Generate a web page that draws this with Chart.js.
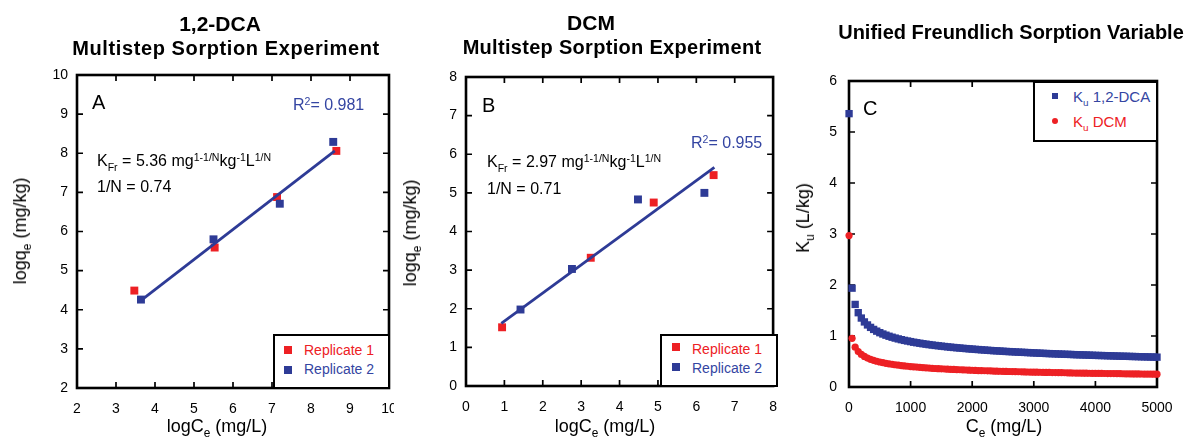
<!DOCTYPE html>
<html>
<head>
<meta charset="utf-8">
<title>Freundlich sorption</title>
<script src="https://cdn.jsdelivr.net/npm/chart.js@4.4.1/dist/chart.umd.min.js"></script>
<style>
  body { margin: 0; background: #fff; width: 1190px; height: 438px; position: relative; overflow: hidden;
         font-family: 'Liberation Sans', Arial, Helvetica, sans-serif; color: #000; }
  .panel { position: absolute; top: 0; height: 438px; overflow: hidden; }
  .t { position: absolute; white-space: nowrap; line-height: 1; }
  .b { font-weight: bold; }
  .cx { transform: translateX(-50%); }
  .rot { transform: translate(-50%, -50%) rotate(-90deg); }
  .sb { font-size: 0.66em; position: relative; top: 0.45em; }
  .sp { font-size: 0.66em; position: relative; top: -0.5em; }
  .blue { color: #3445a2; }
  .red { color: #ed2024; }
  .legend { position: absolute; box-sizing: border-box; border: 2px solid #000; background: #fff; }
  .mk { position: absolute; }
</style>
</head>
<body>

<div class="panel" style="left:0;width:394px"><canvas id="chartA" width="410" height="438"></canvas></div>
<div class="panel" style="left:395px;width:395px"><canvas id="chartB" width="395" height="438"></canvas></div>
<div class="panel" style="left:790px;width:400px"><canvas id="chartC" width="400" height="438"></canvas></div>

<!-- titles -->
<div class="t b cx" style="left:220px;top:13px;font-size:21px">1,2-DCA</div>
<div class="t b cx" style="left:226px;top:38px;font-size:20px;letter-spacing:0.6px">Multistep Sorption Experiment</div>
<div class="t b cx" style="left:591px;top:12px;font-size:21px">DCM</div>
<div class="t b cx" style="left:612px;top:37px;font-size:20px;letter-spacing:0.3px">Multistep Sorption Experiment</div>
<div class="t b cx" style="left:1011px;top:22px;font-size:20px">Unified Freundlich Sorption Variable</div>

<!-- axis titles -->
<div class="t rot" style="left:20px;top:231px;font-size:18px">logq<span class="sb">e</span> (mg/kg)</div>
<div class="t cx" style="left:217px;top:417px;font-size:18px">logC<span class="sb">e</span> (mg/L)</div>
<div class="t rot" style="left:410px;top:233px;font-size:18px">logq<span class="sb">e</span> (mg/kg)</div>
<div class="t cx" style="left:605px;top:417px;font-size:18px">logC<span class="sb">e</span> (mg/L)</div>
<div class="t rot" style="left:803px;top:218px;font-size:18px">K<span class="sb">u</span> (L/kg)</div>
<div class="t cx" style="left:1004px;top:417px;font-size:18px">C<span class="sb">e</span> (mg/L)</div>

<!-- panel annotations -->
<div class="t" style="left:92px;top:92px;font-size:20px">A</div>
<div class="t blue" style="left:293px;top:97px;font-size:16px">R<span class="sp">2</span>= 0.981</div>
<div class="t" style="left:97px;top:153px;font-size:16px">K<span class="sb" style="top:0.5em">Fr</span> = 5.36 mg<span class="sp">1-1/N</span>kg<span class="sp">-1</span>L<span class="sp">1/N</span></div>
<div class="t" style="left:97px;top:179px;font-size:16px">1/N = 0.74</div>

<div class="t" style="left:482px;top:95px;font-size:20px">B</div>
<div class="t blue" style="left:691px;top:135px;font-size:16px">R<span class="sp">2</span>= 0.955</div>
<div class="t" style="left:487px;top:154px;font-size:16px">K<span class="sb" style="top:0.5em">Fr</span> = 2.97 mg<span class="sp">1-1/N</span>kg<span class="sp">-1</span>L<span class="sp">1/N</span></div>
<div class="t" style="left:487px;top:181px;font-size:16px">1/N = 0.71</div>

<div class="t" style="left:863px;top:98px;font-size:20px">C</div>

<!-- legends -->
<div class="legend" style="left:273px;top:334px;width:117px;height:55px"></div>
<div class="mk" style="left:284px;top:346px;width:8px;height:8px;background:#ed2024"></div>
<div class="mk" style="left:284px;top:366px;width:8px;height:8px;background:#2e3b96"></div>
<div class="t red" style="left:304px;top:343px;font-size:14px">Replicate 1</div>
<div class="t blue" style="left:304px;top:362px;font-size:14px">Replicate 2</div>

<div class="legend" style="left:660px;top:334px;width:118px;height:53px"></div>
<div class="mk" style="left:672px;top:343px;width:8px;height:8px;background:#ed2024"></div>
<div class="mk" style="left:672px;top:363px;width:8px;height:8px;background:#2e3b96"></div>
<div class="t red" style="left:692px;top:342px;font-size:14px">Replicate 1</div>
<div class="t blue" style="left:692px;top:361px;font-size:14px">Replicate 2</div>

<div class="legend" style="left:1033px;top:81px;width:125px;height:61px"></div>
<div class="mk" style="left:1052px;top:93px;width:6px;height:6px;background:#2e3b96"></div>
<div class="mk" style="left:1052px;top:118px;width:6px;height:6px;border-radius:50%;background:#ed2024"></div>
<div class="t blue" style="left:1073px;top:89px;font-size:15px">K<span class="sb">u</span> 1,2-DCA</div>
<div class="t red" style="left:1073px;top:114px;font-size:15px">K<span class="sb">u</span> DCM</div>

<script>
// 1,2-DCA multistep sorption, log-log
const dcaRep1X = [3.47, 5.53, 7.13, 8.65];
const dcaRep1Y = [4.49, 5.59, 6.88, 8.06];
const dcaRep2X = [3.64, 5.50, 7.20, 8.57];
const dcaRep2Y = [4.26, 5.80, 6.71, 8.29];
const dcaFitX = [3.66, 8.61];
const dcaFitY = [4.25, 8.06];

// DCM multistep sorption, log-log
const dcmRep1X = [0.94, 3.25, 4.89, 6.45];
const dcmRep1Y = [1.52, 3.32, 4.75, 5.46];
const dcmRep2X = [1.42, 2.76, 4.48, 6.21];
const dcmRep2Y = [1.98, 3.03, 4.83, 5.00];
const dcmFitX = [0.92, 6.47];
const dcmFitY = [1.62, 5.66];

// unified Freundlich variable Ku vs Ce
const ceValues = [
    1,
    50, 100, 150, 200, 250, 300, 350, 400, 450, 500,
    550, 600, 650, 700, 750, 800, 850, 900, 950, 1000,
    1050, 1100, 1150, 1200, 1250, 1300, 1350, 1400, 1450, 1500,
    1550, 1600, 1650, 1700, 1750, 1800, 1850, 1900, 1950, 2000,
    2050, 2100, 2150, 2200, 2250, 2300, 2350, 2400, 2450, 2500,
    2550, 2600, 2650, 2700, 2750, 2800, 2850, 2900, 2950, 3000,
    3050, 3100, 3150, 3200, 3250, 3300, 3350, 3400, 3450, 3500,
    3550, 3600, 3650, 3700, 3750, 3800, 3850, 3900, 3950, 4000,
    4050, 4100, 4150, 4200, 4250, 4300, 4350, 4400, 4450, 4500,
    4550, 4600, 4650, 4700, 4750, 4800, 4850, 4900, 4950, 5000
];
const kuDCA = [
    5.36,
    1.938, 1.619, 1.457, 1.352, 1.276, 1.217, 1.169, 1.129, 1.095, 1.065,
    1.039, 1.016, 0.995, 0.976, 0.959, 0.943, 0.928, 0.914, 0.902, 0.890,
    0.878, 0.868, 0.858, 0.848, 0.840, 0.831, 0.823, 0.815, 0.808, 0.801,
    0.794, 0.787, 0.781, 0.775, 0.769, 0.764, 0.758, 0.753, 0.748, 0.743,
    0.738, 0.734, 0.729, 0.725, 0.720, 0.716, 0.712, 0.709, 0.705, 0.701,
    0.697, 0.694, 0.691, 0.687, 0.684, 0.681, 0.678, 0.675, 0.672, 0.669,
    0.666, 0.663, 0.660, 0.657, 0.655, 0.652, 0.650, 0.647, 0.645, 0.642,
    0.640, 0.638, 0.635, 0.633, 0.631, 0.629, 0.627, 0.625, 0.622, 0.620,
    0.618, 0.617, 0.615, 0.613, 0.611, 0.609, 0.607, 0.605, 0.603, 0.602,
    0.600, 0.598, 0.597, 0.595, 0.593, 0.592, 0.590, 0.588, 0.587, 0.585
];
const kuDCM = [
    2.97,
    0.955, 0.781, 0.695, 0.639, 0.599, 0.568, 0.543, 0.523, 0.505, 0.490,
    0.477, 0.465, 0.454, 0.444, 0.436, 0.427, 0.420, 0.413, 0.407, 0.401,
    0.395, 0.390, 0.385, 0.380, 0.376, 0.371, 0.367, 0.363, 0.360, 0.356,
    0.353, 0.350, 0.347, 0.344, 0.341, 0.338, 0.335, 0.333, 0.330, 0.328,
    0.325, 0.323, 0.321, 0.319, 0.317, 0.315, 0.313, 0.311, 0.309, 0.307,
    0.305, 0.304, 0.302, 0.300, 0.299, 0.297, 0.296, 0.294, 0.293, 0.291,
    0.290, 0.289, 0.287, 0.286, 0.285, 0.283, 0.282, 0.281, 0.280, 0.279,
    0.277, 0.276, 0.275, 0.274, 0.273, 0.272, 0.271, 0.270, 0.269, 0.268,
    0.267, 0.266, 0.265, 0.264, 0.263, 0.263, 0.262, 0.261, 0.260, 0.259,
    0.258, 0.257, 0.257, 0.256, 0.255, 0.254, 0.254, 0.253, 0.252, 0.251
];

// tick labels
const aXTicks = [2, 3, 4, 5, 6, 7, 8, 9, 10];
const aYTicks = [2, 3, 4, 5, 6, 7, 8, 9, 10];
const bXTicks = [0, 1, 2, 3, 4, 5, 6, 7, 8];
const bYTicks = [0, 1, 2, 3, 4, 5, 6, 7, 8];
const cXTicks = [0, 1000, 2000, 3000, 4000, 5000];
const cYTicks = [0, 1, 2, 3, 4, 5, 6];

const RED = '#ed2024';
const BLUE = '#2e3b96';
const FONT = "'Liberation Sans', Arial, sans-serif";

function pairs(xs, ys) {
    return xs.map((x, i) => ({ x: x, y: ys[i] }));
}

// box around the plot area with inward tick marks on all four sides
const frameTicks = {
    id: 'frameTicks',
    beforeDatasetsDraw(chart) {
        const { ctx, chartArea: a } = chart;
        const x = chart.scales.x, y = chart.scales.y;
        const len = 6;
        ctx.save();
        ctx.strokeStyle = '#000';
        ctx.lineWidth = 1.7;
        ctx.beginPath();
        x.ticks.forEach(t => {
            const px = x.getPixelForValue(t.value);
            if (px - a.left < 2 || a.right - px < 2) return;
            ctx.moveTo(px, a.bottom); ctx.lineTo(px, a.bottom - len);
            ctx.moveTo(px, a.top); ctx.lineTo(px, a.top + len);
        });
        y.ticks.forEach(t => {
            const py = y.getPixelForValue(t.value);
            if (a.bottom - py < 2 || py - a.top < 2) return;
            ctx.moveTo(a.left, py); ctx.lineTo(a.left + len, py);
            ctx.moveTo(a.right, py); ctx.lineTo(a.right - len, py);
        });
        ctx.stroke();
        ctx.lineWidth = 2.6;
        ctx.strokeRect(a.left, a.top, a.right - a.left, a.bottom - a.top);
        ctx.restore();
    }
};

function axis(min, max, tickList, size, pad) {
    return {
        type: 'linear',
        min: min,
        max: max,
        grid: { display: false, drawTicks: false },
        border: { display: false },
        ticks: {
            padding: pad,
            color: '#000',
            font: { family: FONT, size: 14 },
            callback: v => String(v)
        },
        afterBuildTicks: s => { s.ticks = tickList.map(v => ({ value: v })); },
        afterFit: s => {
            if (s.isHorizontal()) s.height = size; else s.width = size;
        }
    };
}

function makeChart(id, datasets, xAx, yAx, padding) {
    return new Chart(document.getElementById(id), {
        type: 'scatter',
        data: { datasets: datasets },
        options: {
            responsive: false,
            animation: false,
            devicePixelRatio: 1,
            layout: { padding: padding },
            plugins: { legend: { display: false }, tooltip: { enabled: false } },
            scales: { x: xAx, y: yAx }
        },
        plugins: [frameTicks]
    });
}

function fitLine(xs, ys) {
    return {
        data: pairs(xs, ys),
        showLine: true,
        borderColor: BLUE,
        borderWidth: 2.8,
        pointRadius: 0,
        clip: false
    };
}

function squares(xs, ys, color, r) {
    return {
        data: pairs(xs, ys),
        pointStyle: 'rect',
        pointRadius: r,
        backgroundColor: color,
        borderColor: color,
        borderWidth: 0,
        clip: false
    };
}

makeChart('chartA', [
    fitLine(dcaFitX, dcaFitY),
    squares(dcaRep2X, dcaRep2Y, BLUE, 5.6),
    squares(dcaRep1X, dcaRep1Y, RED, 5.6)
], axis(2, 10, aXTicks, 50, 13), axis(2, 10, aYTicks, 77, 9),
   { top: 75, right: 21, left: 0, bottom: 0 });

makeChart('chartB', [
    fitLine(dcmFitX, dcmFitY),
    squares(dcmRep2X, dcmRep2Y, BLUE, 5.6),
    squares(dcmRep1X, dcmRep1Y, RED, 5.6)
], axis(0, 8, bXTicks, 52, 13), axis(0, 8, bYTicks, 71, 9),
   { top: 77, right: 13, left: 0, bottom: 0 });

makeChart('chartC', [
    squares(ceValues, kuDCA, BLUE, 5.2),
    {
        data: pairs(ceValues, kuDCM),
        pointStyle: 'circle',
        pointRadius: 3.6,
        backgroundColor: RED,
        borderColor: RED,
        borderWidth: 0,
        clip: false
    }
], axis(0, 5000, cXTicks, 51, 13), axis(0, 6, cYTicks, 59, 12),
   { top: 81, right: 33, left: 0, bottom: 0 });
</script>
</body>
</html>
